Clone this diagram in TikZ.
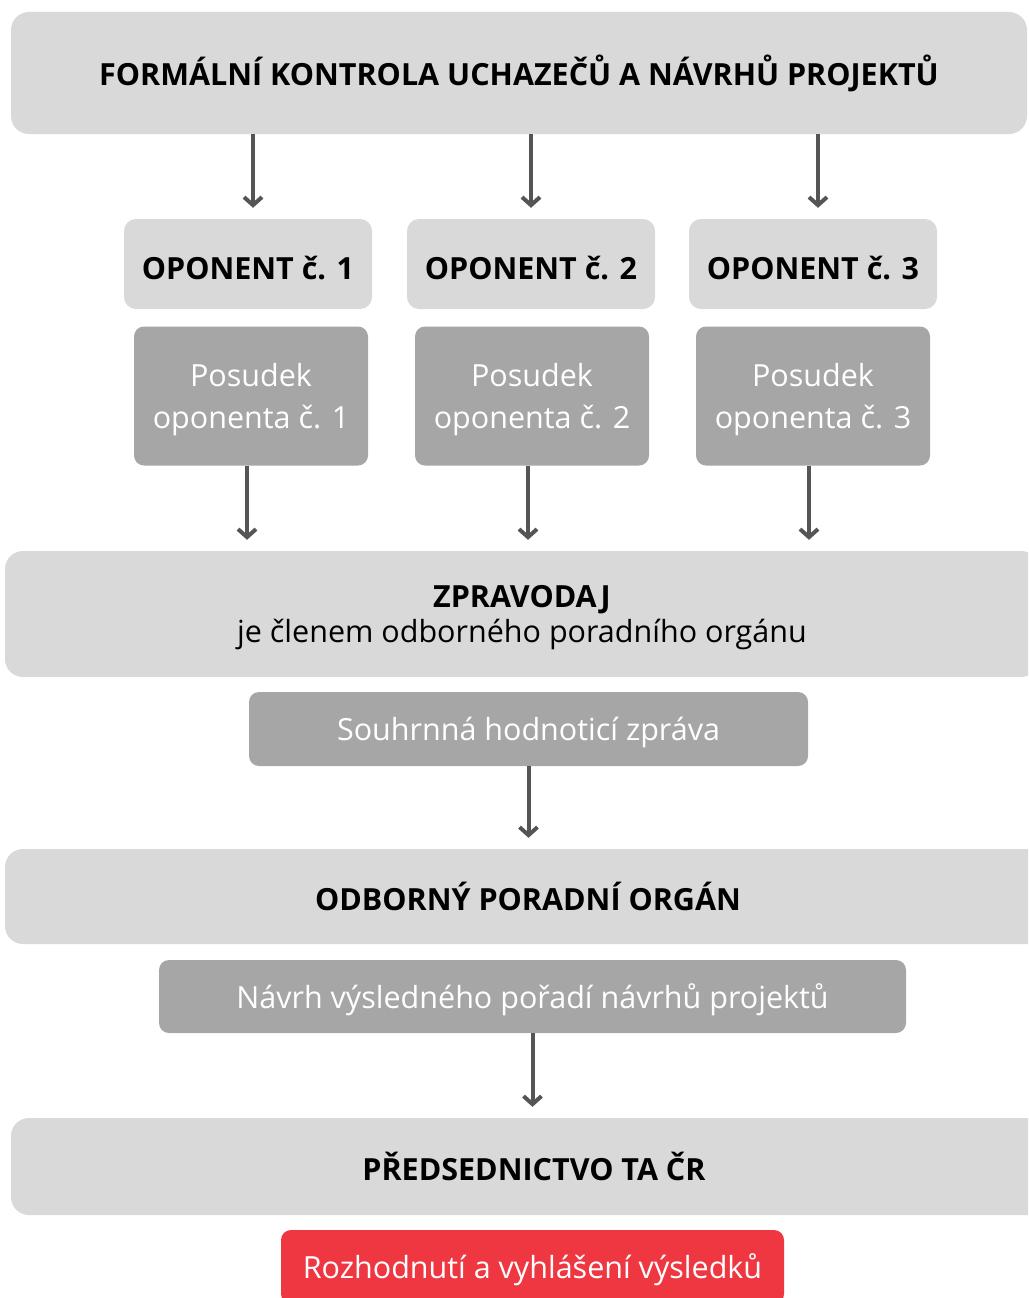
\documentclass[tikz,border=0pt]{standalone}
\usepackage{fontspec}
\setmainfont{Open Sans}
\usepackage{tikz}
\usetikzlibrary{arrows.meta}
\usepackage{xcolor}
\definecolor{boxlight}{HTML}{D9D9D9}
\definecolor{boxdark}{HTML}{A6A6A6}
\definecolor{arrowgray}{HTML}{555555}
\definecolor{resultred}{HTML}{EF3742}

\begin{document}
\begin{tikzpicture}
    [
      x=1pt, y=-1pt,
      stage/.style={fill=boxlight, rounded corners=18pt, inner sep=0pt,
        font=\fontsize{30.5}{38}\selectfont\bfseries, text=black, align=center},
      oponent/.style={fill=boxlight, rounded corners=12pt, inner sep=0pt,
        minimum width=248pt, minimum height=90pt, text height=30pt, text depth=0pt,
        font=\fontsize{30.5}{38}\selectfont\bfseries},
      output/.style={fill=boxdark, rounded corners=10pt, inner sep=0pt, text depth=1pt,
        text=white, align=center, font=\fontsize{30.5}{42}\selectfont},
      flow/.style={draw=arrowgray, line width=4pt,
        -{Straight Barb[length=8pt, width=18pt]}, shorten >=11pt}
    ]
    \clip (0,0) rectangle (1028,1298);

    % hlavni stupne
    \node [stage, minimum width=1016pt, minimum height=122pt] (kontrola) at (519,73)
      {FORMÁLNÍ KONTROLA UCHAZEČŮ A NÁVRHŮ PROJEKTŮ};

    % oponenti
    \node [oponent] (op1) at (248,264) {OPONENT č. 1};
    \node [oponent] (op2) at (531,264) {OPONENT č. 2};
    \node [oponent] (op3) at (813,264) {OPONENT č. 3};

    \node [output, minimum width=234pt, minimum height=139pt, text depth=-6.5pt] (pos1) at (251,396)
      {Posudek\\oponenta č. 1};
    \node [output, minimum width=234pt, minimum height=139pt, text depth=-6.5pt] (pos2) at (532,396)
      {Posudek\\oponenta č. 2};
    \node [output, minimum width=234pt, minimum height=139pt, text depth=-6.5pt] (pos3) at (813,396)
      {Posudek\\oponenta č. 3};

    % zpravodaj
    \node [stage, minimum width=1034pt, minimum height=126pt, text depth=-3.5pt] (zpravodaj) at (522,614)
      {ZPRAVODAJ\\[-3pt]{\mdseries je členem odborného poradního orgánu}};
    \node [output, minimum width=559pt, minimum height=74pt] (souhrn) at (528.5,729)
      {Souhrnná hodnoticí zpráva};

    % organ
    \node [stage, minimum width=1046pt, minimum height=95pt] (organ) at (528,896.5)
      {ODBORNÝ PORADNÍ ORGÁN};
    \node [output, minimum width=747pt, minimum height=73pt] (navrh) at (532.5,996.5)
      {Návrh výsledného pořadí návrhů projektů};

    % predsednictvo
    \node [stage, minimum width=1046pt, minimum height=97pt] (predsed) at (534,1166.5)
      {PŘEDSEDNICTVO TA ČR};
    \node [output, fill=resultred, minimum width=503pt, minimum height=74pt] (vysledek) at (532.5,1267)
      {Rozhodnutí a vyhlášení výsledků};

    % sipky
    \draw [flow] ([xshift=5pt]op1.north |- kontrola.south) -- ([xshift=5pt]op1.north);
    \draw [flow] (op2.north |- kontrola.south) -- (op2.north);
    \draw [flow] ([xshift=5pt]op3.north |- kontrola.south) -- ([xshift=5pt]op3.north);
    \draw [flow] ([xshift=-4pt]pos1.south) -- ([xshift=-4pt]pos1.south |- zpravodaj.north);
    \draw [flow] ([xshift=-4pt]pos2.south) -- ([xshift=-4pt]pos2.south |- zpravodaj.north);
    \draw [flow] ([xshift=-4pt]pos3.south) -- ([xshift=-4pt]pos3.south |- zpravodaj.north);
    \draw [flow] (souhrn.south) -- (souhrn.south |- organ.north);
    \draw [flow] (navrh.south) -- (navrh.south |- predsed.north);
\end{tikzpicture}
\end{document}
